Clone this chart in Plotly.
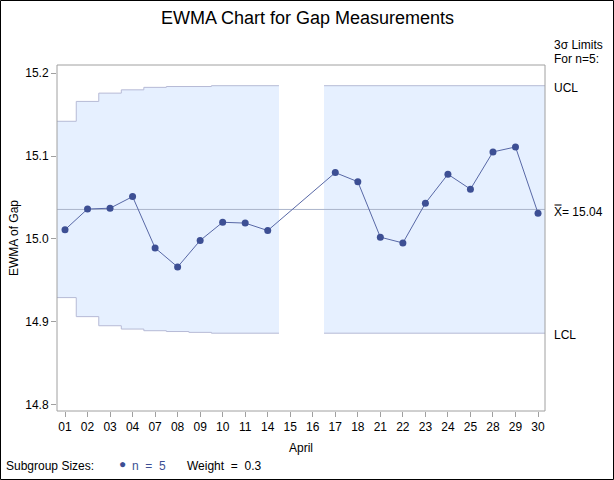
import plotly.graph_objects as go

# ---- data ----
days = ["01", "02", "03", "04", "07", "08", "09", "10", "11", "14", "15",
        "16", "17", "18", "21", "22", "23", "24", "25", "28", "29", "30"]
ewma = [15.011, 15.036, 15.037, 15.051, 14.989, 14.966, 14.998, 15.020, 15.019,
        15.010, None, None, 15.080, 15.069, 15.002, 14.995, 15.043, 15.078,
        15.060, 15.105, 15.111, 15.031]
ucl = [15.142, 15.166, 15.176, 15.180, 15.183, 15.184, 15.184, 15.185, 15.185,
       15.185, None, None, 15.185, 15.185, 15.185, 15.185, 15.185, 15.185,
       15.185, 15.185, 15.185, 15.185]
lcl = [14.929, 14.906, 14.895, 14.891, 14.889, 14.888, 14.887, 14.886, 14.886,
       14.886, None, None, 14.886, 14.886, 14.886, 14.886, 14.886, 14.886,
       14.886, 14.886, 14.886, 14.886]
center = 15.0355
yticks = [14.8, 14.9, 15.0, 15.1, 15.2]

W, H = 614, 480
ML, MR, MT, MB = 57, 69, 65, 69
PW, PH = W - ML - MR, H - MT - MB
XR = [-0.355, 21.31]
YR = [14.792, 15.210]

FONT = "Liberation Sans, Arial, sans-serif"
FILL = "#E6F0FF"
BAND_LINE = "#B6BAD6"
MARK = "#3D4F94"
LINE = "#5868A6"
AXIS = "#A0A0A0"

fig = go.Figure()


def step_band(idx):
    xs, yu, yl = [], [], []
    for i in idx:
        x0 = max(i - 0.5, XR[0])
        x1 = min(i + 0.5, XR[1])
        xs += [x0, x1]
        yu += [ucl[i], ucl[i]]
        yl += [lcl[i], lcl[i]]
    return xs, yu, yl


segments = []
cur = []
for i, v in enumerate(ucl):
    if v is None:
        if cur:
            segments.append(cur)
        cur = []
    else:
        cur.append(i)
if cur:
    segments.append(cur)

for seg in segments:
    xs, yu, yl = step_band(seg)
    fig.add_trace(go.Scatter(x=xs, y=yl, mode="lines",
                             line=dict(color=BAND_LINE, width=1),
                             hoverinfo="skip", showlegend=False))
    fig.add_trace(go.Scatter(x=xs, y=yu, mode="lines", fill="tonexty",
                             fillcolor=FILL,
                             line=dict(color=BAND_LINE, width=1),
                             hoverinfo="skip", showlegend=False))

# center line
fig.add_trace(go.Scatter(x=XR, y=[center, center], mode="lines",
                         line=dict(color="#AAB4CA", width=1),
                         hoverinfo="skip", showlegend=False))

# EWMA series
fig.add_trace(go.Scatter(x=list(range(len(days))), y=ewma, mode="lines+markers",
                         connectgaps=True,
                         line=dict(color=LINE, width=1),
                         marker=dict(color=MARK, size=7),
                         showlegend=False))


def px_x(p):
    return (p - ML) / PW


def px_y(p):
    return (H - MB - p) / PH


ann = []
ann.append(dict(text="EWMA Chart for Gap Measurements", xref="paper", yref="paper",
                x=px_x(307), y=px_y(18), xanchor="center", yanchor="middle",
                showarrow=False, font=dict(size=18, color="black", family=FONT)))
ann.append(dict(text="3σ Limits", xref="paper", yref="paper",
                x=px_x(552), y=px_y(45), xanchor="left", yanchor="middle",
                showarrow=False, font=dict(size=12, color="black", family=FONT)))
ann.append(dict(text="For n=5:", xref="paper", yref="paper",
                x=px_x(552), y=px_y(59), xanchor="left", yanchor="middle",
                showarrow=False, font=dict(size=12, color="black", family=FONT)))
ann.append(dict(text="UCL", xref="paper", yref="y",
                x=px_x(552), y=ucl[-1], yshift=-2, xanchor="left", yanchor="middle",
                showarrow=False, font=dict(size=12, color="black", family=FONT)))
ann.append(dict(text="LCL", xref="paper", yref="y",
                x=px_x(552), y=lcl[-1], yshift=-2, xanchor="left", yanchor="middle",
                showarrow=False, font=dict(size=12, color="black", family=FONT)))
ann.append(dict(text="X\u033f= %.2f" % center, xref="paper", yref="y",
                x=px_x(552), y=center, yshift=-2, xanchor="left", yanchor="middle",
                showarrow=False, font=dict(size=12, color="black", family=FONT)))
ann.append(dict(text="EWMA of Gap", xref="paper", yref="paper",
                x=px_x(14), y=px_y(238), xanchor="center", yanchor="middle",
                textangle=-90, showarrow=False,
                font=dict(size=12, color="black", family=FONT)))
ann.append(dict(text="April", xref="paper", yref="paper",
                x=px_x(301), y=px_y(448), xanchor="center", yanchor="middle",
                showarrow=False, font=dict(size=12, color="black", family=FONT)))
ann.append(dict(text="Subgroup Sizes:", xref="paper", yref="paper",
                x=px_x(4), y=px_y(466), xanchor="left", yanchor="middle",
                showarrow=False, font=dict(size=12, color="black", family=FONT)))
ann.append(dict(text="●", xref="paper", yref="paper",
                x=px_x(122), y=px_y(464), xanchor="center", yanchor="middle",
                showarrow=False, font=dict(size=12, color=MARK, family=FONT)))
ann.append(dict(text="n  =  5", xref="paper", yref="paper",
                x=px_x(130), y=px_y(466), xanchor="left", yanchor="middle",
                showarrow=False, font=dict(size=12, color=MARK, family=FONT)))
ann.append(dict(text="Weight  =  0.3", xref="paper", yref="paper",
                x=px_x(185), y=px_y(466), xanchor="left", yanchor="middle",
                showarrow=False, font=dict(size=12, color="black", family=FONT)))

shapes = [
    dict(type="rect", xref="paper", yref="paper",
         x0=px_x(0.5), x1=px_x(W - 0.5), y0=px_y(H - 0.5), y1=px_y(0.5),
         line=dict(color="black", width=1), layer="below"),
    dict(type="rect", xref="paper", yref="paper", x0=0, x1=1, y0=0, y1=1,
         line=dict(color=AXIS, width=1), layer="above"),
]

fig.update_layout(
    width=W, height=H,
    margin=dict(l=ML, r=MR, t=MT, b=MB),
    paper_bgcolor="white", plot_bgcolor="white",
    font=dict(family=FONT, size=12, color="black"),
    annotations=ann, shapes=shapes,
    xaxis=dict(range=XR, tickmode="array", tickvals=list(range(len(days))),
               ticktext=days, ticks="outside", ticklen=5, tickcolor=AXIS,
               showgrid=False, zeroline=False, showline=False,
               tickfont=dict(size=12, family=FONT, color="black")),
    yaxis=dict(range=YR, tickmode="array", tickvals=yticks,
               ticktext=["%.1f" % t for t in yticks], ticks="outside",
               ticklen=5, tickcolor=AXIS, showgrid=False, zeroline=False,
               showline=False, tickfont=dict(size=12, family=FONT, color="black")),
)

fig.write_html("out.html", config={"displayModeBar": False},
               post_script="document.body.style.margin='0';document.body.style.overflow='hidden';")
